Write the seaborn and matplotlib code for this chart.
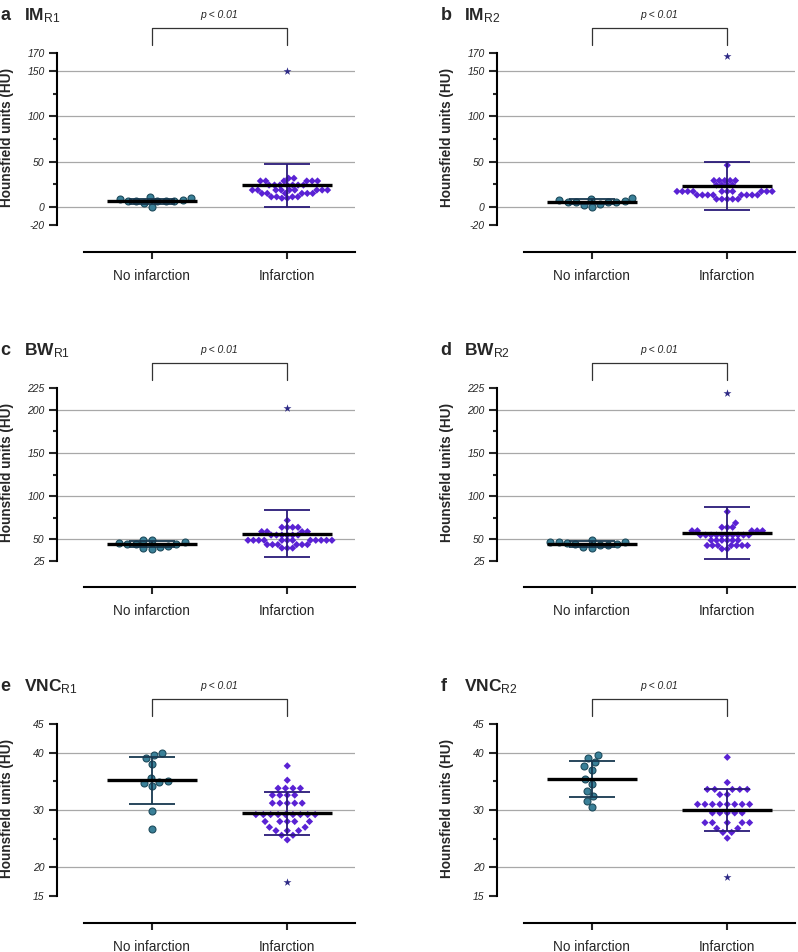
import numpy as np
import pandas as pd
import matplotlib
matplotlib.use("Agg")
import matplotlib.pyplot as plt
import seaborn as sns

groups = ["No infarction", "Infarction"]

# ---- values (Hounsfield units) ----
# a  IM R1
im_r1_no = [8.1, 6.3, 6.0, 6.0, 6.0, 6.0, -0.7, 10.4, 3.7, 7.4, 9.3]
im_r1_inf = [31.5, 31.5,
             28.5, 28.5, 28.5, 28.5, 28.5, 28.5,
             24, 24, 24, 24, 24, 24, 24,
             18.5, 18.5, 18.5, 18.5, 18.5, 18.5, 18.5, 18.5, 18.5,
             14.8, 14.8, 14.8, 14.8, 14.8, 14.8,
             11, 11, 11, 11,
             9.5, 9.5]
im_r1_out = 150
im_r1_mean = [5.9, 23.7]
im_r1_sd = [2.6, 23.5]

# b  IM R2
im_r2_no = [9.6, 7.4, 5.5, 5.5, 5.5, 3.0, -0.7, 2.2, 5.5, 6.3, 8.1]
im_r2_inf = [46,
             29, 29, 29, 29, 29,
             24, 24, 24, 24,
             17, 17, 17, 17, 17, 17, 17, 17, 17, 17,
             13, 13, 13, 13, 13, 13, 13, 13,
             8.5, 8.5, 8.5, 8.5, 8.5]
im_r2_out = 167
im_r2_mean = [5.5, 23.0]
im_r2_sd = [2.8, 26.5]

# c  BW R1
bw_r1_no = [49.6, 46.9, 45.0, 45.0, 41.0, 39.0, 40.3, 41.9, 44.2, 45.7, 48.8]
bw_r1_inf = [72,
             64, 64, 64, 64,
             59, 59, 59, 59,
             55, 55, 55, 55, 55, 55,
             49, 49, 49, 49, 49, 49, 49, 49, 49, 49, 49, 49,
             44, 44, 44, 44, 44, 44,
             40, 40, 40]
bw_r1_out = 202
bw_r1_mean = [44.6, 56.6]
bw_r1_sd = [3.0, 27.0]

# d  BW R2
bw_r2_no = [49.5, 47.5, 45.5, 44.5, 43.0, 40.0, 41.5, 43.0, 44.5, 46.5, 47.5]
bw_r2_inf = [82, 69,
             64, 64, 64,
             60, 60, 60, 60, 60,
             55, 55, 55, 55, 55, 55, 55, 55, 55, 55,
             49, 49, 49, 49, 49, 49,
             43, 43, 43, 43, 43, 43, 43,
             39, 39]
bw_r2_out = 219
bw_r2_mean = [44.6, 57.8]
bw_r2_sd = [3.0, 30.0]

# e  VNC R1
vnc_r1_no = [40.0, 39.6, 39.0, 38.0, 35.6, 35.1, 34.8, 34.7, 34.2, 29.9, 26.7]
vnc_r1_inf = [37.7, 35.2,
              33.8, 33.8, 33.8, 33.8,
              32.6, 32.6, 32.6, 32.6,
              31.2, 31.2, 31.2, 31.2, 31.2,
              29.2, 29.2, 29.2, 29.2, 29.2, 29.2, 29.2, 29.2, 29.2,
              28.0, 28.0, 28.0, 28.0, 28.0,
              27.0, 27.0,
              26.4, 26.4, 26.4,
              25.6, 25.6,
              24.8]
vnc_r1_out = 17.5
vnc_r1_mean = [35.2, 29.4]
vnc_r1_sd = [4.1, 3.75]

# f  VNC R2
vnc_r2_no = [39.0, 39.6, 38.3, 37.6, 37.0, 35.4, 34.5, 33.4, 32.5, 31.6, 30.5]
vnc_r2_inf = [39.2, 34.8,
              33.6, 33.6, 33.6, 33.6, 33.6,
              32.7, 32.7,
              31.0, 31.0, 31.0, 31.0, 31.0, 31.0, 31.0, 31.0,
              29.5, 29.5, 29.5, 29.5, 29.5,
              27.8, 27.8, 27.8, 27.8, 27.8,
              26.8, 26.8,
              26.1, 26.1,
              25.1]
vnc_r2_out = 18.3
vnc_r2_mean = [35.4, 30.0]
vnc_r2_sd = [3.15, 3.6]

# y axis setup per row
im_major = [-20, 0, 50, 100, 150, 170]
im_minor = [25, 75, 125]
im_grid = [0, 50, 100, 150]
bw_major = [25, 50, 100, 150, 200, 225]
bw_minor = [75, 125, 175]
bw_grid = [50, 100, 150, 200]
vnc_major = [15, 20, 30, 40, 45]
vnc_minor = [25, 35]
vnc_grid = [20, 30, 40]

panels = [
    ("a", "IM", "R1", im_r1_no, im_r1_inf, im_r1_out, im_r1_mean, im_r1_sd, im_major, im_minor, im_grid, -50),
    ("b", "IM", "R2", im_r2_no, im_r2_inf, im_r2_out, im_r2_mean, im_r2_sd, im_major, im_minor, im_grid, -50),
    ("c", "BW", "R1", bw_r1_no, bw_r1_inf, bw_r1_out, bw_r1_mean, bw_r1_sd, bw_major, bw_minor, bw_grid, -5),
    ("d", "BW", "R2", bw_r2_no, bw_r2_inf, bw_r2_out, bw_r2_mean, bw_r2_sd, bw_major, bw_minor, bw_grid, -5),
    ("e", "VNC", "R1", vnc_r1_no, vnc_r1_inf, vnc_r1_out, vnc_r1_mean, vnc_r1_sd, vnc_major, vnc_minor, vnc_grid, 10.3),
    ("f", "VNC", "R2", vnc_r2_no, vnc_r2_inf, vnc_r2_out, vnc_r2_mean, vnc_r2_sd, vnc_major, vnc_minor, vnc_grid, 10.3),
]

teal = "#3a8098"
teal_edge = "#1d4b5c"
purple = "#5a22d4"
star_col = "#2e2a86"
bar_no = "#17384f"
bar_inf = "#2a1a78"

sns.set_style("ticks")
plt.rcParams["font.family"] = ["Liberation Sans", "DejaVu Sans"]
plt.rcParams["mathtext.fontset"] = "custom"
plt.rcParams["mathtext.rm"] = "Liberation Sans"
plt.rcParams["mathtext.bf"] = "Liberation Sans:bold"
plt.rcParams["mathtext.it"] = "Liberation Sans:italic"

fig = plt.figure(figsize=(7.98, 9.52), dpi=100)

lefts = [57 / 798, 497 / 798]
bottoms = [1 - 252 / 952, 1 - 587 / 952, 1 - 923 / 952]
w = 298 / 798
h = 199 / 952

for i, (letter, name, sub, no_vals, inf_vals, outlier, means, sds,
        major, minor, grid, ylo) in enumerate(panels):
    ax = fig.add_axes([lefts[i % 2], bottoms[i // 2], w, h])

    df_no = pd.DataFrame({"group": groups[0], "HU": no_vals})
    df_inf = pd.DataFrame({"group": groups[1], "HU": inf_vals})
    df_out = pd.DataFrame({"group": [groups[1]], "HU": [outlier]})

    # gridlines
    for v in grid:
        ax.axhline(v, color="#a8a8a8", lw=0.9, zorder=0)

    # an invisible edge width spaces the diamonds out in the sparse VNC panels;
    # in the squashed IM/BW panels they overlap like in the original
    gap = 1.4 if name == "VNC" else 0.0
    sns.swarmplot(data=df_no, x="group", y="HU", order=groups, marker="o",
                  color=teal, edgecolor=teal_edge, linewidth=0.8, size=5,
                  ax=ax, zorder=3)
    sns.swarmplot(data=df_inf, x="group", y="HU", order=groups, marker="D",
                  color=purple, edgecolor="none", linewidth=gap, size=3.7,
                  ax=ax, zorder=3, warn_thresh=1)
    sns.swarmplot(data=df_out, x="group", y="HU", order=groups, marker="*",
                  color=star_col, linewidth=0, size=6, ax=ax, zorder=3)

    # mean +/- SD
    ax.errorbar([0], [means[0]], yerr=[sds[0]], fmt="none", ecolor=bar_no,
                elinewidth=1.3, capsize=16.5, capthick=1.3, zorder=4)
    ax.errorbar([1], [means[1]], yerr=[sds[1]], fmt="none", ecolor=bar_inf,
                elinewidth=1.3, capsize=16.5, capthick=1.3, zorder=4)
    ax.hlines(means, [-0.333, 0.667], [0.333, 1.333], color="black", lw=2.4,
              zorder=5)

    ax.set_xlim(-0.70, 1.50)
    ax.set_ylim(ylo, major[-1])
    ax.set_xticks([0, 1])
    ax.set_xticklabels(groups, fontsize=9.8)
    ax.set_yticks(major)
    ax.set_yticklabels([str(t) for t in major], fontstyle="italic", fontsize=7.5)
    ax.set_yticks(minor, minor=True)
    ax.tick_params(axis="y", which="major", length=6, width=1.5, pad=3)
    ax.tick_params(axis="y", which="minor", length=3, width=1.5)
    ax.tick_params(axis="x", length=5, width=1.5, pad=7)

    sns.despine(ax=ax)
    ax.spines["left"].set_bounds(major[0], major[-1])
    ax.spines["bottom"].set_bounds(-0.5, 1.5)
    ax.spines["left"].set_linewidth(1.5)
    ax.spines["bottom"].set_linewidth(1.5)
    ax.spines["left"].set_color("black")
    ax.spines["bottom"].set_color("black")

    ax.set_xlabel("")
    ax.set_ylabel("Hounsfield units (HU)", fontsize=9.8, fontweight="bold")
    ax.yaxis.set_label_coords(-0.145, 0.575)

    # significance bracket
    tr = ax.get_xaxis_transform()
    ax.plot([0, 0, 1, 1], [1.04, 1.126, 1.126, 1.04], transform=tr,
            color="#333333", lw=0.9, clip_on=False)
    ax.text(0.5, 1.19, "p < 0.01", transform=tr, ha="center", va="center",
            fontsize=7.5, fontstyle="italic")

    # panel letter and title
    ax.text(-0.19, 1.166, letter, transform=ax.transAxes, fontsize=13,
            fontweight="bold", va="baseline", ha="left")
    ax.text(-0.11, 1.166, r"$\mathbf{%s}_{\mathrm{%s}}$" % (name, sub),
            transform=ax.transAxes, fontsize=12.5, va="baseline", ha="left")

fig.savefig("out.png", dpi=100)
